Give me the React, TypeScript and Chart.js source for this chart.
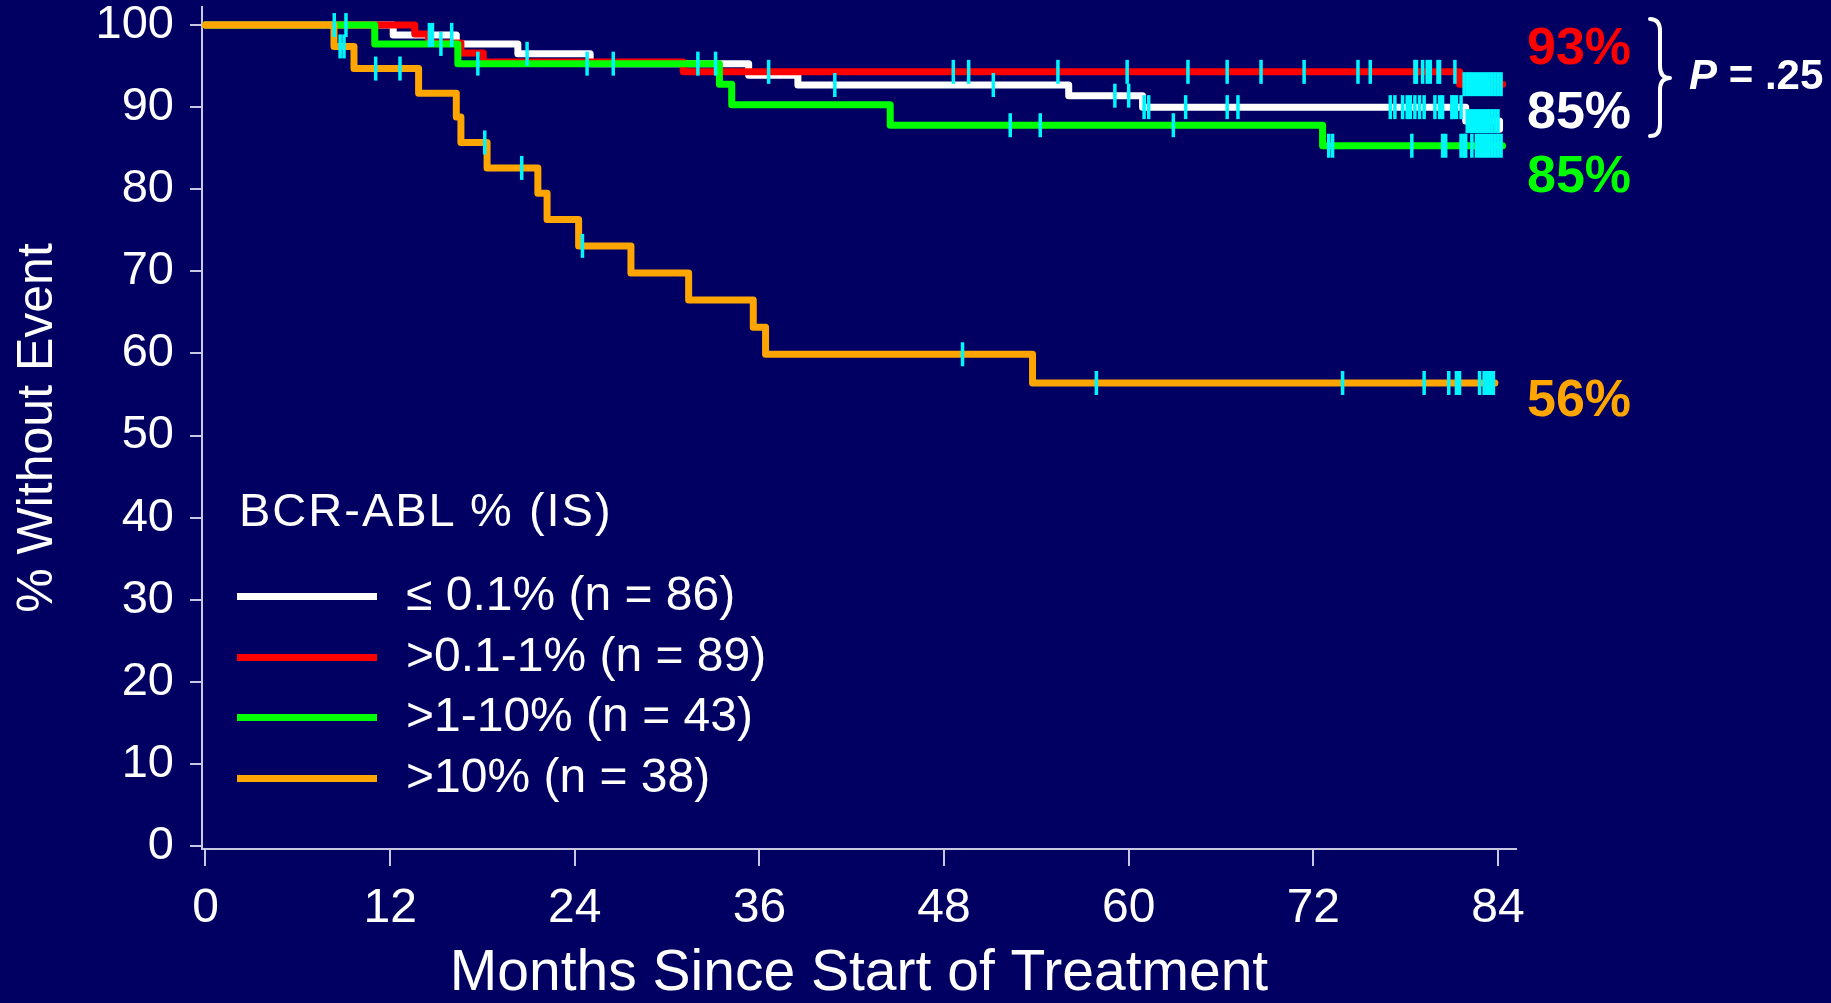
import React, { useEffect, useRef } from 'react';
import { Chart, registerables } from 'chart.js';

Chart.register(...registerables);

// ---- axis ticks ----
const X_TICKS = [0, 12, 24, 36, 48, 60, 72, 84];
const Y_TICKS = [0, 10, 20, 30, 40, 50, 60, 70, 80, 90, 100];

// ---- ≤ 0.1% (n = 86) ----
const WHITE_TIMES = [0, 12.2, 16.3, 20.3, 25.0, 35.3, 38.5, 56.1, 60.9, 81.9, 84.1];
const WHITE_SURV = [100, 98.8, 97.7, 96.5, 95.3, 93.9, 92.7, 91.4, 90.0, 88.3, 87.3];
const WHITE_CENSOR = [8.37, 9.13, 14.55, 14.75, 16.0, 20.9, 40.9, 51.2, 59.1, 60.0, 61.0, 61.3, 63.7, 66.4, 67.1,
  77.0, 77.3, 77.8, 78.1, 78.3, 78.6, 78.9, 79.2, 79.9, 80.2, 80.4, 81.0, 81.1, 81.3, 81.6,
  82.0, 82.2, 82.4, 82.6, 82.8, 83.0, 83.2, 83.4, 83.6, 83.8, 84.0];

// ---- >0.1-1% (n = 89) ----
const RED_TIMES = [0, 13.6, 14.5, 16.6, 18.05, 31.05, 81.5, 84.3];
const RED_SURV = [100, 98.9, 97.8, 96.6, 95.5, 94.3, 92.8, 92.8];
const RED_CENSOR = [36.6, 48.6, 49.6, 55.4, 59.9, 63.85, 66.4, 68.6, 71.4, 74.9, 75.7, 78.6, 78.7, 79.1, 79.4,
  79.6, 80.1, 80.2, 81.2, 81.8, 82.0, 82.2, 82.4, 82.6, 82.8, 83.0, 83.2, 83.4, 83.6, 83.8, 84.0, 84.2];

// ---- >1-10% (n = 43) ----
const GREEN_TIMES = [0, 11.0, 16.4, 33.4, 34.2, 44.5, 72.6, 84.3];
const GREEN_SURV = [100, 97.7, 95.3, 92.8, 90.3, 87.8, 85.3, 85.3];
const GREEN_CENSOR = [15.3, 17.7, 24.8, 26.5, 32.0, 33.15, 52.3, 54.25, 62.9, 73.0, 73.25, 78.4, 80.4, 80.6,
  81.6, 81.8, 81.9, 82.3, 82.6, 82.8, 83.0, 83.2, 83.4, 83.6, 83.8, 84.0, 84.2];

// ---- >10% (n = 38) ----
const ORANGE_TIMES = [0, 8.35, 9.65, 13.85, 16.3, 16.6, 18.3, 21.6, 22.2, 24.25, 27.65, 31.4, 35.6, 36.4, 53.75, 83.8];
const ORANGE_SURV = [100, 97.4, 94.7, 91.7, 88.8, 85.7, 82.6, 79.5, 76.3, 73.1, 69.8, 66.5, 63.2, 59.9, 56.4, 56.4];
const ORANGE_CENSOR = [8.75, 9.0, 11.06, 12.64, 18.15, 20.55, 24.5, 49.2, 57.9, 73.9, 79.2, 80.8, 81.3, 81.5,
  82.8, 83.1, 83.3, 83.5, 83.7];

const LEGEND_TITLE = 'BCR-ABL % (IS)';
const LEGEND_LABELS = ['≤ 0.1% (n = 86)', '>0.1-1% (n = 89)', '>1-10% (n = 43)', '>10% (n = 38)'];
const END_LABELS = ['93%', '85%', '85%', '56%'];
const P_VALUE = '= .25';

const BG = '#010062';
const C_WHITE = '#ffffff';
const C_RED = '#ff0000';
const C_GREEN = '#00ff00';
const C_ORANGE = '#ffa500';
const C_CENSOR = '#00f6ff';
const AXIS = '#c8c8e2';
const FONT = '"Liberation Sans", Arial, Helvetica, sans-serif';

function survivalAt(times: number[], surv: number[], t: number): number {
  let v = surv[0];
  for (let i = 0; i < times.length; i++) if (times[i] <= t) v = surv[i];
  return v;
}

function curve(times: number[], surv: number[], color: string, order: number) {
  return {
    type: 'line' as const,
    data: times.map((t, i) => ({ x: t, y: surv[i] })),
    borderColor: color,
    backgroundColor: color,
    borderWidth: 7,
    stepped: 'before' as const,
    pointRadius: 0,
    fill: false,
    borderJoinStyle: 'round' as const,
    borderCapStyle: 'round' as const,
    order,
  };
}

function censor(times: number[], surv: number[], marks: number[]) {
  return {
    type: 'line' as const,
    data: marks.map((t) => ({ x: t, y: survivalAt(times, surv, t) })),
    showLine: false,
    pointStyle: 'line' as const,
    pointRotation: 90,
    pointRadius: 12,
    pointBorderWidth: 3.5,
    pointBorderColor: C_CENSOR,
    pointBackgroundColor: C_CENSOR,
    borderColor: C_CENSOR,
    order: 0,
  };
}

export default function App() {
  const canvasRef = useRef<HTMLCanvasElement | null>(null);

  useEffect(() => {
    document.body.style.margin = '0';
    document.body.style.background = BG;
    const canvas = canvasRef.current;
    if (!canvas) return;
    const chart = new Chart(canvas, {
      type: 'line',
      data: {
        datasets: [
          censor(WHITE_TIMES, WHITE_SURV, WHITE_CENSOR),
          censor(RED_TIMES, RED_SURV, RED_CENSOR),
          censor(GREEN_TIMES, GREEN_SURV, GREEN_CENSOR),
          censor(ORANGE_TIMES, ORANGE_SURV, ORANGE_CENSOR),
          curve(ORANGE_TIMES, ORANGE_SURV, C_ORANGE, 1),
          curve(GREEN_TIMES, GREEN_SURV, C_GREEN, 2),
          curve(RED_TIMES, RED_SURV, C_RED, 3),
          curve(WHITE_TIMES, WHITE_SURV, C_WHITE, 4),
        ] as any,
      },
      options: {
        responsive: false,
        animation: false,
        devicePixelRatio: 1,
        layout: { autoPadding: false, padding: { top: 7, right: 315, bottom: 0, left: 0 } },
        plugins: { legend: { display: false }, tooltip: { enabled: false } },
        events: [],
        scales: {
          x: {
            type: 'linear',
            position: 'bottom',
            min: -0.227,
            max: 85.17,
            afterBuildTicks: (scale: any) => {
              scale.ticks = X_TICKS.map((v) => ({ value: v }));
            },
            afterFit: (scale: any) => {
              scale.height = 154;
              scale.paddingLeft = 0;
              scale.paddingRight = 0;
            },
            ticks: {
              color: '#ffffff',
              font: { family: FONT, size: 48, lineHeight: 1 },
              padding: 19,
              maxRotation: 0,
              autoSkip: false,
            },
            grid: { display: true, drawOnChartArea: false, drawTicks: true, tickLength: 17, color: AXIS, lineWidth: 2 },
            border: { display: true, color: AXIS, width: 2 },
            title: {
              display: true,
              text: 'Months Since Start of Treatment',
              color: '#ffffff',
              font: { family: FONT, size: 57, lineHeight: 1 },
              padding: { top: 0, bottom: 0 },
            },
          },
          y: {
            type: 'linear',
            min: -0.365,
            max: 102.2,
            afterBuildTicks: (scale: any) => {
              scale.ticks = Y_TICKS.map((v) => ({ value: v }));
            },
            afterFit: (scale: any) => {
              scale.width = 202;
              scale.paddingTop = 0;
              scale.paddingBottom = 0;
            },
            ticks: {
              color: '#ffffff',
              font: { family: FONT, size: 47, lineHeight: 1 },
              padding: 16,
              autoSkip: false,
            },
            grid: { display: true, drawOnChartArea: false, drawTicks: true, tickLength: 12, color: AXIS, lineWidth: 2 },
            border: { display: true, color: AXIS, width: 2 },
            title: {
              display: true,
              text: '% Without Event',
              color: '#ffffff',
              font: { family: FONT, size: 50, lineHeight: 1 },
              padding: { top: 13, bottom: 0 },
            },
          },
        },
      } as any,
    });
    return () => chart.destroy();
  }, []);

  const legendColors = [C_WHITE, C_RED, C_GREEN, C_ORANGE];
  const legendY = [596, 657, 717, 778];
  const endColors = [C_RED, C_WHITE, C_GREEN, C_ORANGE];
  const endY = [45, 109, 173, 397];

  const abs = (extra: React.CSSProperties): React.CSSProperties => ({
    position: 'absolute',
    whiteSpace: 'nowrap',
    fontFamily: FONT,
    lineHeight: 1,
    margin: 0,
    ...extra,
  });

  return (
    <div style={{ position: 'relative', width: 1831, height: 1003, background: BG, overflow: 'hidden' }}>
      <canvas ref={canvasRef} width={1831} height={1003} style={{ display: 'block' }} />

      {/* legend */}
      <div style={abs({ left: 239, top: 509 - 0.49 * 47, fontSize: 47, color: '#fff', letterSpacing: 2 })}>
        {LEGEND_TITLE}
      </div>
      {LEGEND_LABELS.map((lab, i) => (
        <React.Fragment key={lab}>
          <div style={{ position: 'absolute', left: 237, top: legendY[i] - 3.5, width: 140, height: 7, background: legendColors[i] }} />
          <div style={abs({ left: 406, top: legendY[i] - 2 - 0.49 * 48, fontSize: 48, color: '#fff' })}>{lab}</div>
        </React.Fragment>
      ))}

      {/* end-of-curve labels */}
      {END_LABELS.map((lab, i) => (
        <div key={i} style={abs({ left: 1527, top: endY[i] - 0.49 * 52, fontSize: 52, fontWeight: 'bold', color: endColors[i] })}>
          {lab}
        </div>
      ))}

      {/* brace */}
      <svg style={{ position: 'absolute', left: 0, top: 0 }} width={1831} height={1003}>
        <path
          d="M 1650 19 Q 1660 19 1660 31 L 1660 66 Q 1660 78 1670 78 Q 1660 78 1660 90 L 1660 124 Q 1660 136 1650 136"
          fill="none"
          stroke="#ffffff"
          strokeWidth={4}
          strokeLinecap="round"
          strokeLinejoin="round"
        />
      </svg>
      <div style={abs({ left: 1689, top: 75 - 0.49 * 42, fontSize: 42, fontWeight: 'bold', color: '#fff' })}>
        <span style={{ fontStyle: 'italic' }}>P</span> {P_VALUE}
      </div>
    </div>
  );
}
